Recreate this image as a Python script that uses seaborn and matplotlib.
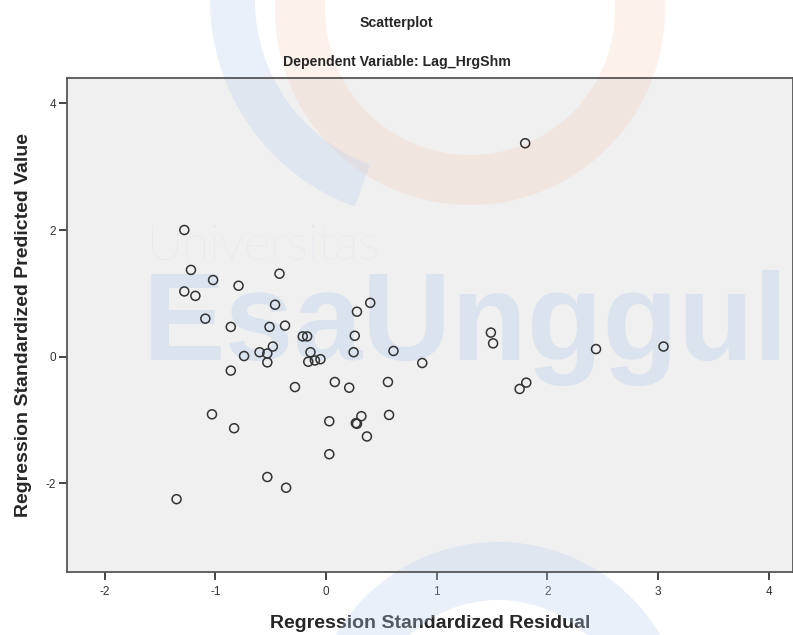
import numpy as np
import pandas as pd
import seaborn as sns
import matplotlib.pyplot as plt
from matplotlib.patches import Wedge
from matplotlib.transforms import IdentityTransform

# values
std_residual = [-1.28, -1.22, -1.02, -0.79, -0.42, -1.28, -1.18, -0.46, 0.28, 0.40,
                -1.09, -0.86, -0.51, -0.37, -0.21, -0.17, 0.26, -0.48, -0.60, -0.53,
                -0.74, -0.14, 0.25, 0.61, -0.53, -0.16, -0.10, -0.05, 0.87, -0.86,
                -0.28, 0.08, 0.21, 0.56, -1.03, -0.83, 0.03, 0.32, 0.27, 0.28,
                0.57, 0.37, 0.03, -0.53, -0.36, -1.35, 1.49, 1.51, 2.44, 3.05,
                1.81, 1.75, 1.80]
std_predicted = [2.00, 1.37, 1.21, 1.12, 1.31, 1.03, 0.96, 0.82, 0.71, 0.85,
                 0.60, 0.47, 0.47, 0.49, 0.32, 0.32, 0.33, 0.16, 0.07, 0.05,
                 0.01, 0.07, 0.07, 0.09, -0.09, -0.08, -0.06, -0.04, -0.10, -0.22,
                 -0.48, -0.40, -0.49, -0.40, -0.91, -1.13, -1.02, -0.94, -1.05, -1.06,
                 -0.92, -1.26, -1.54, -1.90, -2.07, -2.25, 0.38, 0.21, 0.12, 0.16,
                 -0.41, -0.51, 3.37]
x_ticks = [-2, -1, 0, 1, 2, 3, 4]
y_ticks = [-2, 0, 2, 4]

df = pd.DataFrame({"resid": std_residual, "pred": std_predicted})

sns.set_style("white")
plt.rcParams['font.family'] = ['Liberation Sans', 'DejaVu Sans']
plt.rcParams['axes.unicode_minus'] = False

W, H = 793, 635
fig = plt.figure(figsize=(W / 100, H / 100), dpi=100)
ax = fig.add_axes([67 / W, 1 - 572 / H, 1 - 67 / W, (572 - 78) / H])
ax.set_facecolor('#f0f0f0')

# faint logo watermark (pixel coords, y measured from the top)
blue, orange = '#bcd0ee', '#f5c9b5'
px = IdentityTransform()
for cx, cy, r, w, t1, t2, col, a in [
        (470, 10, 195, 50, 0, 360, orange, 0.26),
        (430, 0, 220, 45, 180, 250, blue, 0.3),
        (498, 730, 188, 58, 0, 360, blue, 0.3)]:
    ax.add_patch(Wedge((cx, H - cy), r, t1, t2, width=w, transform=px,
                       facecolor=col, edgecolor='none', alpha=a,
                       zorder=1, clip_on=False))
ax.text(147 / W, 1 - 260 / H, "Universitas", transform=fig.transFigure,
        fontsize=36, color=blue, alpha=0.3, family='Lato', fontweight='light',
        zorder=1, clip_on=False)
ax.text(143 / W, 1 - 360 / H, "EsaUnggul", transform=fig.transFigure,
        fontsize=89, color=blue, alpha=0.4, fontweight='bold', zorder=1, clip_on=False)

sns.scatterplot(data=df, x="resid", y="pred", ax=ax, s=42, facecolor='none',
                edgecolor='#333333', linewidth=1.1, zorder=3)

ax.set_xlim(-2.34, 4.22)
ax.set_ylim(-3.40, 4.40)
ax.set_xticks(x_ticks)
ax.set_yticks(y_ticks)
ax.tick_params(axis='both', direction='out', length=5.5, width=1.4, color='#444444',
               labelsize=8.5, labelcolor='#333333', pad=2.5, bottom=True, left=True)
ax.tick_params(axis='x', pad=4.5)
for side in ['left', 'bottom', 'top', 'right']:
    ax.spines[side].set_color('#555555')
    ax.spines[side].set_linewidth(1.3)

ax.set_xlabel("Regression Standardized Residual", fontsize=14, fontweight='bold', labelpad=12)
ax.set_ylabel("Regression Standardized Predicted Value", fontsize=14, fontweight='bold', labelpad=10)

fig.text(0.5, 1 - 23 / H, "Scatterplot", ha='center', va='center',
         fontsize=10.2, fontweight='bold')
fig.text(0.5, 1 - 62 / H, "Dependent Variable: Lag_HrgShm", ha='center', va='center',
         fontsize=10.2, fontweight='bold')

fig.savefig("out.png", dpi=100)
